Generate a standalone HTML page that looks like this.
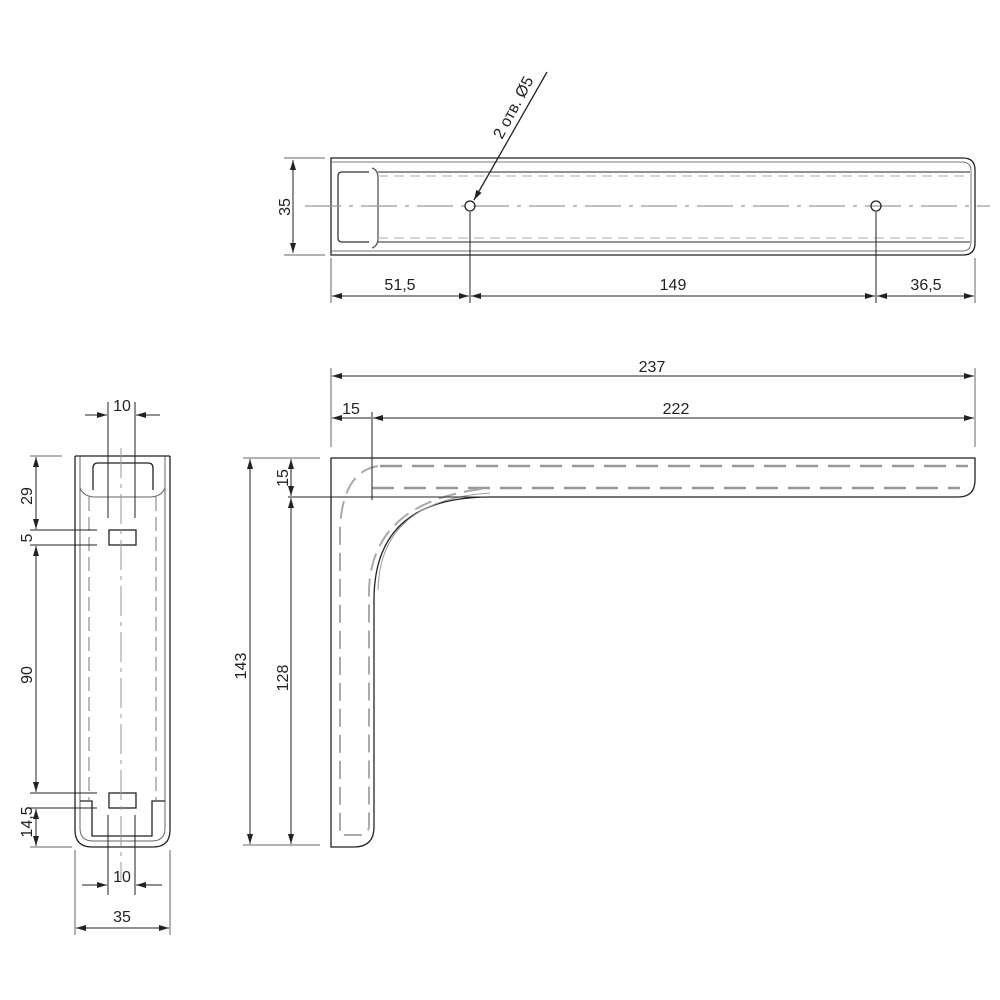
<!DOCTYPE html>
<html><head><meta charset="utf-8"><style>
html,body{margin:0;padding:0;background:#fff;}
svg{display:block;}
text{font-family:"Liberation Sans",sans-serif;font-size:16px;fill:#222;}
</style></head><body>
<svg width="1000" height="1000" viewBox="0 0 1000 1000">
<defs>
<marker id="a" viewBox="0 0 10 6" refX="10" refY="3" markerWidth="10" markerHeight="6" orient="auto-start-reverse" markerUnits="userSpaceOnUse"><path d="M0,0 L10,3 L0,6z" fill="#222"/></marker>
</defs>
<g fill="none" stroke="#222" stroke-width="1.3">
<path d="M331,158 H963 Q975,158 975,170 V243 Q975,255 963,255 H331 Z"/>
<path d="M331,162 H962 Q971,162 971,171 V242 Q971,251 962,251 H331" stroke="#777" stroke-width="1"/>
<path d="M378,172 H970 M378,242 H970" stroke="#555"/>
<path d="M372,168 Q378,170 378,178 V238 Q378,246 372,248" stroke="#555"/>
<path d="M369,172 H342 Q338,172 338,176 V238 Q338,242 342,242 H369" stroke="#333"/>
<path d="M378,176 H970 M378,238 H970" stroke="#bbb" stroke-dasharray="10 6"/>
<line x1="305" y1="206" x2="990" y2="206" stroke="#999" stroke-dasharray="36 8 4 8"/>
<circle cx="470" cy="206" r="5"/>
<circle cx="876" cy="206" r="5"/>
<line x1="547" y1="72" x2="474" y2="200" marker-end="url(#a)"/>
<line x1="284" y1="158" x2="325" y2="158" stroke="#666" stroke-width="1"/>
<line x1="284" y1="255" x2="325" y2="255" stroke="#666" stroke-width="1"/>
<line x1="293" y1="160" x2="293" y2="253" marker-start="url(#a)" marker-end="url(#a)" stroke-width="1"/>
<line x1="331" y1="258" x2="331" y2="303" stroke="#666" stroke-width="1"/>
<line x1="470" y1="212" x2="470" y2="303" stroke-width="1"/>
<line x1="876" y1="212" x2="876" y2="303" stroke-width="1"/>
<line x1="975" y1="258" x2="975" y2="303" stroke="#666" stroke-width="1"/>
<line x1="332" y1="296" x2="469" y2="296" marker-start="url(#a)" marker-end="url(#a)" stroke-width="1"/>
<line x1="471" y1="296" x2="875" y2="296" marker-start="url(#a)" marker-end="url(#a)" stroke-width="1"/>
<line x1="877" y1="296" x2="974" y2="296" marker-start="url(#a)" marker-end="url(#a)" stroke-width="1"/>

<path d="M331,458 H975 V480 Q975,497 958,497 H490 Q374,497 374,600 V827 Q374,847 354,847 H331 Z"/>
<path d="M380,466 H968 M372,488 H960" stroke="#999" stroke-width="2.5" stroke-dasharray="22 10"/>
<path d="M378,466 Q342,472 340,530 V835 H360 Q369,835 369,825 V590 Q372,500 490,488" stroke="#aaa" stroke-width="2" stroke-dasharray="18 8"/>
<path d="M378,590 Q380,500 490,493" stroke="#999" stroke-width="1"/>
<line x1="331" y1="368" x2="331" y2="447" stroke="#666" stroke-width="1"/>
<line x1="975" y1="368" x2="975" y2="447" stroke="#666" stroke-width="1"/>
<line x1="332" y1="376" x2="974" y2="376" marker-start="url(#a)" marker-end="url(#a)" stroke-width="1"/>
<line x1="372" y1="412" x2="372" y2="500" stroke-width="1"/>
<line x1="332" y1="418" x2="371" y2="418" marker-start="url(#a)" stroke-width="1"/>
<line x1="373" y1="418" x2="974" y2="418" marker-start="url(#a)" marker-end="url(#a)" stroke-width="1"/>
<line x1="243" y1="458" x2="320" y2="458" stroke="#666" stroke-width="1"/>
<line x1="243" y1="845" x2="320" y2="845" stroke="#666" stroke-width="1"/>
<line x1="288" y1="497" x2="490" y2="497" stroke-width="1"/>
<line x1="250" y1="459" x2="250" y2="844" marker-start="url(#a)" marker-end="url(#a)" stroke-width="1"/>
<line x1="291" y1="459" x2="291" y2="496" marker-start="url(#a)" marker-end="url(#a)" stroke-width="1"/>
<line x1="291" y1="498" x2="291" y2="844" marker-start="url(#a)" marker-end="url(#a)" stroke-width="1"/>

<path d="M75,456 V830 Q75,847 92,847 H153 Q170,847 170,830 V456"/>
<path d="M80,456 V828 Q80,841 93,841 H152 Q165,841 165,828 V456" stroke="#666" stroke-width="1"/>
<line x1="75" y1="456" x2="170" y2="456"/>
<path d="M93,490 V468 Q93,463 98,463 H148 Q153,463 153,468 V490"/>
<path d="M80,488 Q84,497 95,497 H150 Q161,497 165,488" stroke="#666" stroke-width="1"/>
<path d="M89,497 V800 M156,497 V800" stroke="#bbb" stroke-width="2" stroke-dasharray="14 6"/>
<rect x="109" y="530" width="27" height="15"/>
<rect x="109" y="793" width="27" height="15"/>
<path d="M80,801 H92 V836 H152 V801 H165"/>
<line x1="121" y1="448" x2="121" y2="880" stroke="#999" stroke-width="1" stroke-dasharray="30 6 4 6"/>
<line x1="108" y1="402" x2="108" y2="518" stroke-width="1"/>
<line x1="135" y1="402" x2="135" y2="518" stroke-width="1"/>
<line x1="85" y1="415" x2="107" y2="415" marker-end="url(#a)" stroke-width="1"/>
<line x1="160" y1="415" x2="136" y2="415" marker-end="url(#a)" stroke-width="1"/>
<line x1="108" y1="815" x2="108" y2="895" stroke-width="1"/>
<line x1="135" y1="815" x2="135" y2="895" stroke-width="1"/>
<line x1="82" y1="885" x2="107" y2="885" marker-end="url(#a)" stroke-width="1"/>
<line x1="162" y1="885" x2="136" y2="885" marker-end="url(#a)" stroke-width="1"/>
<line x1="75" y1="850" x2="75" y2="935" stroke="#666" stroke-width="1"/>
<line x1="170" y1="850" x2="170" y2="935" stroke="#666" stroke-width="1"/>
<line x1="76" y1="928" x2="169" y2="928" marker-start="url(#a)" marker-end="url(#a)" stroke-width="1"/>
<line x1="30" y1="456" x2="62" y2="456" stroke="#666" stroke-width="1"/>
<line x1="30" y1="847" x2="72" y2="847" stroke="#666" stroke-width="1"/>
<line x1="30" y1="530" x2="97" y2="530" stroke-width="1"/>
<line x1="30" y1="545" x2="97" y2="545" stroke-width="1"/>
<line x1="30" y1="793" x2="97" y2="793" stroke-width="1"/>
<line x1="30" y1="808" x2="97" y2="808" stroke-width="1"/>
<line x1="36" y1="457" x2="36" y2="529" marker-start="url(#a)" marker-end="url(#a)" stroke-width="1"/>
<line x1="36" y1="546" x2="36" y2="792" marker-start="url(#a)" marker-end="url(#a)" stroke-width="1"/>
<line x1="36" y1="809" x2="36" y2="846" marker-start="url(#a)" marker-end="url(#a)" stroke-width="1"/>
</g>
<text transform="translate(290,207) rotate(-90)" text-anchor="middle">35</text>
<text x="400" y="290" text-anchor="middle">51,5</text>
<text x="673" y="290" text-anchor="middle">149</text>
<text x="926" y="290" text-anchor="middle">36,5</text>
<text transform="translate(518,110) rotate(-62)" text-anchor="middle" font-size="15">2 отв. Ø5</text>
<text x="652" y="372" text-anchor="middle">237</text>
<text x="676" y="414" text-anchor="middle">222</text>
<text x="351" y="414" text-anchor="middle">15</text>
<text transform="translate(246,666) rotate(-90)" text-anchor="middle">143</text>
<text transform="translate(288,678) rotate(-90)" text-anchor="middle">128</text>
<text transform="translate(288,478) rotate(-90)" text-anchor="middle">15</text>
<text x="122" y="411" text-anchor="middle">10</text>
<text x="122" y="882" text-anchor="middle">10</text>
<text x="122" y="922" text-anchor="middle">35</text>
<text transform="translate(32,496) rotate(-90)" text-anchor="middle">29</text>
<text transform="translate(32,538) rotate(-90)" text-anchor="middle">5</text>
<text transform="translate(32,675) rotate(-90)" text-anchor="middle">90</text>
<text transform="translate(32,822) rotate(-90)" text-anchor="middle">14,5</text>
</svg>
</body></html>
